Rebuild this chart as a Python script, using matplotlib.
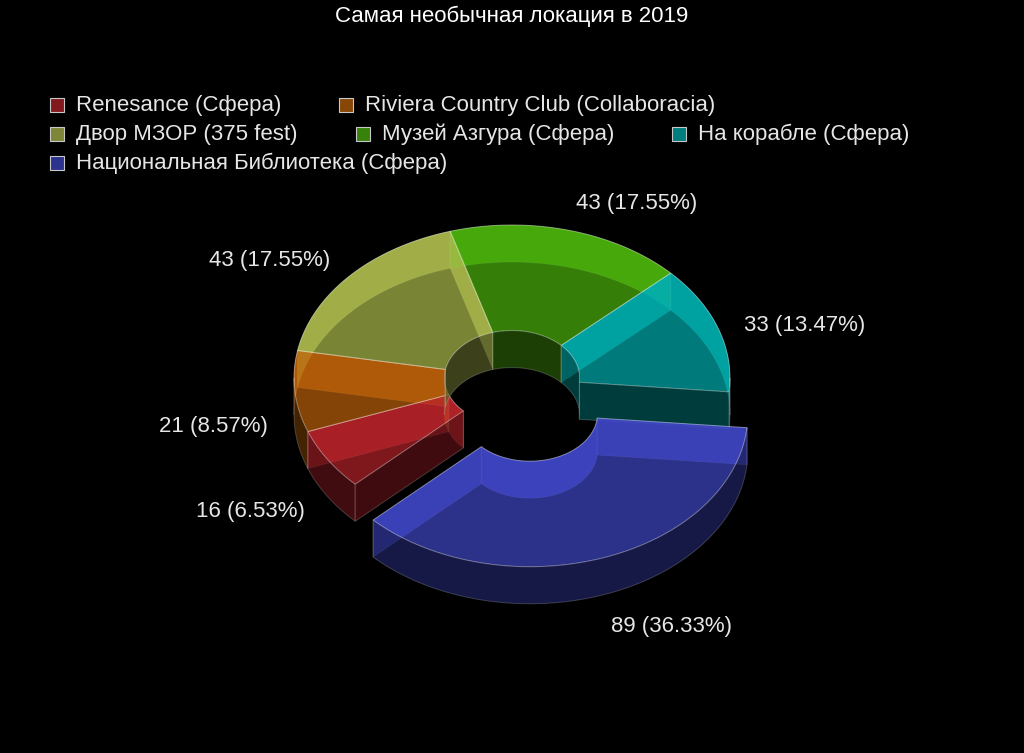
import numpy as np
import matplotlib
matplotlib.use('Agg')
import matplotlib.pyplot as plt
from matplotlib.patches import Polygon, Rectangle

# ---------------- data ----------------
title = 'Самая необычная локация в 2019'
categories = ['Renesance (Сфера)', 'Riviera Country Club (Collaboracia)',
              'Двор МЗОР (375 fest)', 'Музей Азгура (Сфера)',
              'На корабле (Сфера)', 'Национальная Библиотека (Сфера)']
values = [16, 21, 43, 43, 33, 89]
colors = ['#82191e', '#884607', '#7d8737', '#37820a', '#007d7d', '#2d328c']
exploded = [False, False, False, False, False, True]

# ---------------- layout / style ----------------
W, H = 1024, 753
CX, CY = 512, 378          # centre of top face
RX, RY = 218, 153          # outer radii of projected ellipse
RIN = 0.31                 # inner radius ratio
DEPTH = 37
EXPLODE = 54
START = -136.0             # degrees, slices run clockwise
ALPHA = 0.7
FONT = 'Liberation Sans'
FS = 16.0
TXT = '#e6e6e6'

fig = plt.figure(figsize=(W / 100, H / 100), dpi=100, facecolor='black')
ax = fig.add_axes([0, 0, 1, 1])
ax.set_xlim(0, W)
ax.set_ylim(H, 0)
ax.axis('off')
ax.set_facecolor('black')


def shade(c, f):
    rgb = np.array(matplotlib.colors.to_rgb(c)) * f
    return tuple(np.clip(rgb, 0, 1))


def proj(t, r, z, off):
    t = np.atleast_1d(t)
    return np.column_stack([CX + r * RX * np.cos(t) + off[0],
                            CY - r * RY * np.sin(t) + z * DEPTH + off[1]])


def arc(a, b, r, z, off, n=None):
    if n is None:
        n = max(4, int(abs(b - a) / np.radians(1.5)))
    return proj(np.linspace(a, b, n), r, z, off)


def split_pi(lo, hi):
    pts = [lo]
    k = np.ceil(lo / np.pi)
    while k * np.pi < hi:
        if k * np.pi > lo:
            pts.append(k * np.pi)
        k += 1
    pts.append(hi)
    return list(zip(pts[:-1], pts[1:]))


total = float(sum(values))
n = len(values)
slices = []
cum = 0.0
for i, v in enumerate(values):
    hi = np.radians(START - cum / total * 360.0)
    lo = np.radians(START - (cum + v) / total * 360.0)
    cum += v
    mid = 0.5 * (lo + hi)
    off = (0.0, 0.0)
    if exploded[i]:
        off = (EXPLODE * np.cos(mid), -EXPLODE * (RY / RX) * np.sin(mid))
    slices.append(dict(lo=lo, hi=hi, mid=mid, off=off, color=colors[i], val=v))


def faces(i):
    s = slices[i]
    lo, hi, off, c = s['lo'], s['hi'], s['off'], s['color']
    hi_exposed = exploded[i] or exploded[(i - 1) % n]
    lo_exposed = exploded[i] or exploded[(i + 1) % n]
    back, front = [], []
    for a, b in split_pi(lo, hi):
        poly = np.vstack([arc(a, b, 1, 0, off), arc(b, a, 1, 1, off)])
        if np.sin(0.5 * (a + b)) < 0:
            front.append((poly, shade(c, 0.72)))
        else:
            back.append((poly, shade(c, 1.5)))
    for a, b in split_pi(lo, hi):
        poly = np.vstack([arc(a, b, RIN, 0, off), arc(b, a, RIN, 1, off)])
        if np.sin(0.5 * (a + b)) > 0:
            front.append((poly, shade(c, 0.7)))
        else:
            back.append((poly, shade(c, 1.7)))
    for ang, is_front, exposed in ((hi, np.cos(hi) < 0, hi_exposed),
                                   (lo, np.cos(lo) > 0, lo_exposed)):
        poly = np.vstack([proj(ang, 1, 0, off), proj(ang, RIN, 0, off),
                          proj(ang, RIN, 1, off), proj(ang, 1, 1, off)])
        if is_front:
            if exposed:
                front.append((poly, shade(c, 0.7)))
        else:
            back.append((poly, shade(c, 1.5)))
    top = np.vstack([arc(lo, hi, 1, 0, off), arc(hi, lo, RIN, 0, off)])
    return back, (top, shade(c, 1.4)), front


def draw(poly, col, edge_a=0.22, z=1):
    ax.add_patch(Polygon(poly, closed=True, facecolor=(*col, ALPHA),
                         edgecolor=(1, 1, 1, edge_a), linewidth=0.7, zorder=z))


normal = [i for i in range(n) if not exploded[i]]
expl = [i for i in range(n) if exploded[i]]

for group in (normal, expl):
    fl = [faces(i) for i in group]
    for back, top, front in fl:
        for poly, col in back:
            draw(poly, col, 0.15)
    for back, top, front in fl:
        draw(top[0], top[1], 0.35)
    for back, top, front in fl:
        for poly, col in front:
            draw(poly, col, 0.2)

# ---------------- data labels ----------------
LX, LY, LCY = 245, 192, 399
for s in slices:
    m = s['mid']
    x = CX + LX * np.cos(m) + s['off'][0]
    y = LCY - LY * np.sin(m) + s['off'][1]
    pct = s['val'] / total * 100
    ax.text(x, y, f"{s['val']} ({pct:.2f}%)",
            ha='left' if np.cos(m) > 0 else 'right',
            va='top' if np.sin(m) < 0 else 'bottom',
            color=TXT, fontsize=FS, family=FONT, zorder=5)

# ---------------- title ----------------
ax.text(W / 2, 16, title, ha='center', va='center', color='white',
        fontsize=FS, family=FONT, zorder=5)

# ---------------- legend (flow layout) ----------------
renderer = fig.canvas.get_renderer()
LEG_X0, LEG_Y0, ROW_H, MAXX = 50, 105, 29, 975
SW, GAP_T, GAP_ITEM = 14, 26, 58
x, y = LEG_X0, LEG_Y0
for name, col in zip(categories, colors):
    t = ax.text(x + GAP_T, y, name, ha='left', va='center', color=TXT,
                fontsize=FS, family=FONT, zorder=5)
    w = t.get_window_extent(renderer).width
    if x + GAP_T + w > MAXX and x != LEG_X0:
        x = LEG_X0
        y += ROW_H
        t.set_position((x + GAP_T, y))
    ax.add_patch(Rectangle((x, y - SW / 2), SW, SW, facecolor=col,
                           edgecolor='#c8c8c8', linewidth=0.8, zorder=5))
    x = x + GAP_T + w + GAP_ITEM

fig.savefig('out.png', dpi=100, facecolor='black')
